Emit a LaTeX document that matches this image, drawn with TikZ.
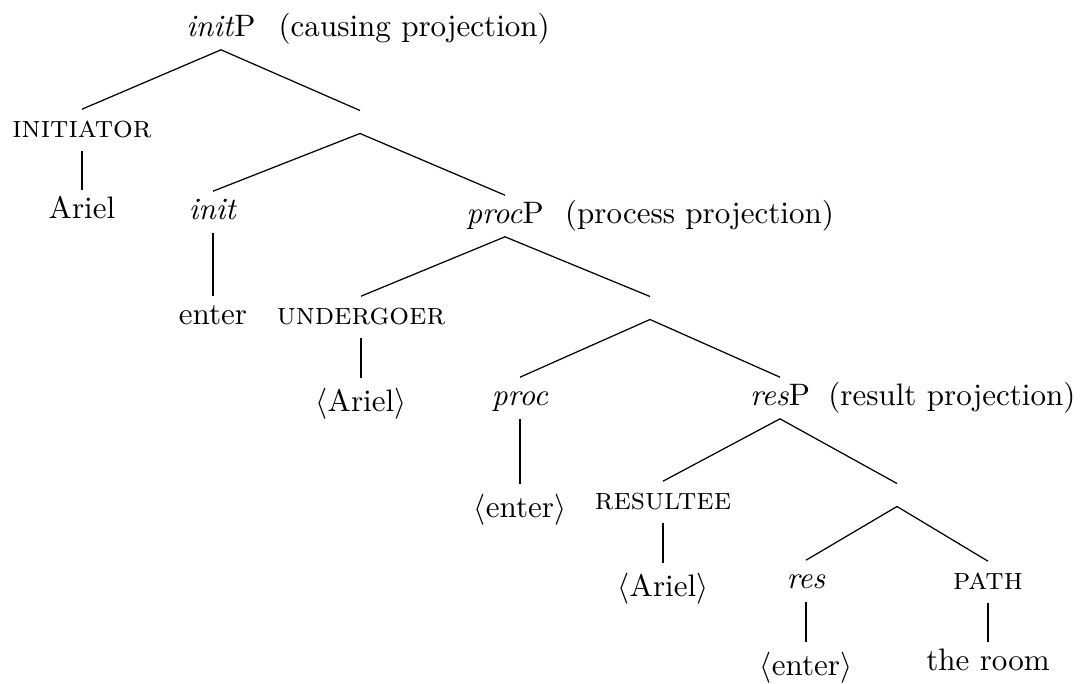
\documentclass[tikz,border=0pt]{standalone}
\usepackage{tikz}
\usetikzlibrary{positioning}

\begin{document}
\begin{tikzpicture}[
      x=0.322pt, y=-0.322pt,
      every node/.style={inner sep=2pt, text height=7pt, text depth=2pt},
      trace/.style={text height=8.5pt, text depth=0.5pt},
      gap/.style={inner sep=0pt, minimum height=7pt, text height=0pt, text depth=0pt},
      note/.style={inner sep=2pt},
      branch/.style={line width=0.4pt}
    ]

    \path[use as bounding box] (0,0) rectangle (1081,683);

    % causing projection
    \node (initP) at (221,29) {\emph{init}P};
    \node[note, right=3pt of initP] (initnote) {(causing projection)};
    \node (initiator) at (82,130) {\textsc{initiator}};
    \node (ariel) at (82,211) {Ariel};
    \node[gap] (initbar) at (360,122) {};
    \node (init) at (213,212) {\emph{init}};
    \node (enter) at (213,317) {enter};

    % process projection
    \node (procP) at (505,216) {\emph{proc}P};
    \node[note, right=2.5pt of procP] (procnote) {(process projection)};
    \node (undergoer) at (361,317) {\textsc{undergoer}};
    \node[trace] (arielA) at (361,399) {$\langle$Ariel$\rangle$};
    \node[gap] (procbar) at (650,308) {};
    \node (proc) at (520,398) {\emph{proc}};
    \node[trace] (enterA) at (520,505) {$\langle$enter$\rangle$};

    % result projection
    \node (resP) at (780,398) {\emph{res}P};
    \node[note, right=1.5pt of resP] (resnote) {(result projection)};
    \node (resultee) at (663,502) {\textsc{resultee}};
    \node[trace] (arielB) at (663,584) {$\langle$Ariel$\rangle$};
    \node[gap] (resbar) at (897,495) {};
    \node (res) at (806,581) {\emph{res}};
    \node[trace] (enterB) at (806,663) {$\langle$enter$\rangle$};
    \node (path) at (988,582) {\textsc{path}};
    \node (room) at (988,663) {the room};

    % branches
    \draw[branch] (initiator.north) -- (initP.south) -- (initbar.north);
    \draw[branch] (initiator) -- (ariel);
    \draw[branch] (init.north) -- (initbar.south) -- (procP.north);
    \draw[branch] (init) -- (enter);
    \draw[branch] (undergoer.north) -- (procP.south) -- (procbar.north);
    \draw[branch] (undergoer) -- (arielA);
    \draw[branch] (proc.north) -- (procbar.south) -- (resP.north);
    \draw[branch] (proc) -- (enterA);
    \draw[branch] (resultee.north) -- (resP.south) -- (resbar.north);
    \draw[branch] (resultee) -- (arielB);
    \draw[branch] (res.north) -- (resbar.south) -- (path.north);
    \draw[branch] (res) -- (enterB);
    \draw[branch] (path) -- (room);

  \end{tikzpicture}
\end{document}
